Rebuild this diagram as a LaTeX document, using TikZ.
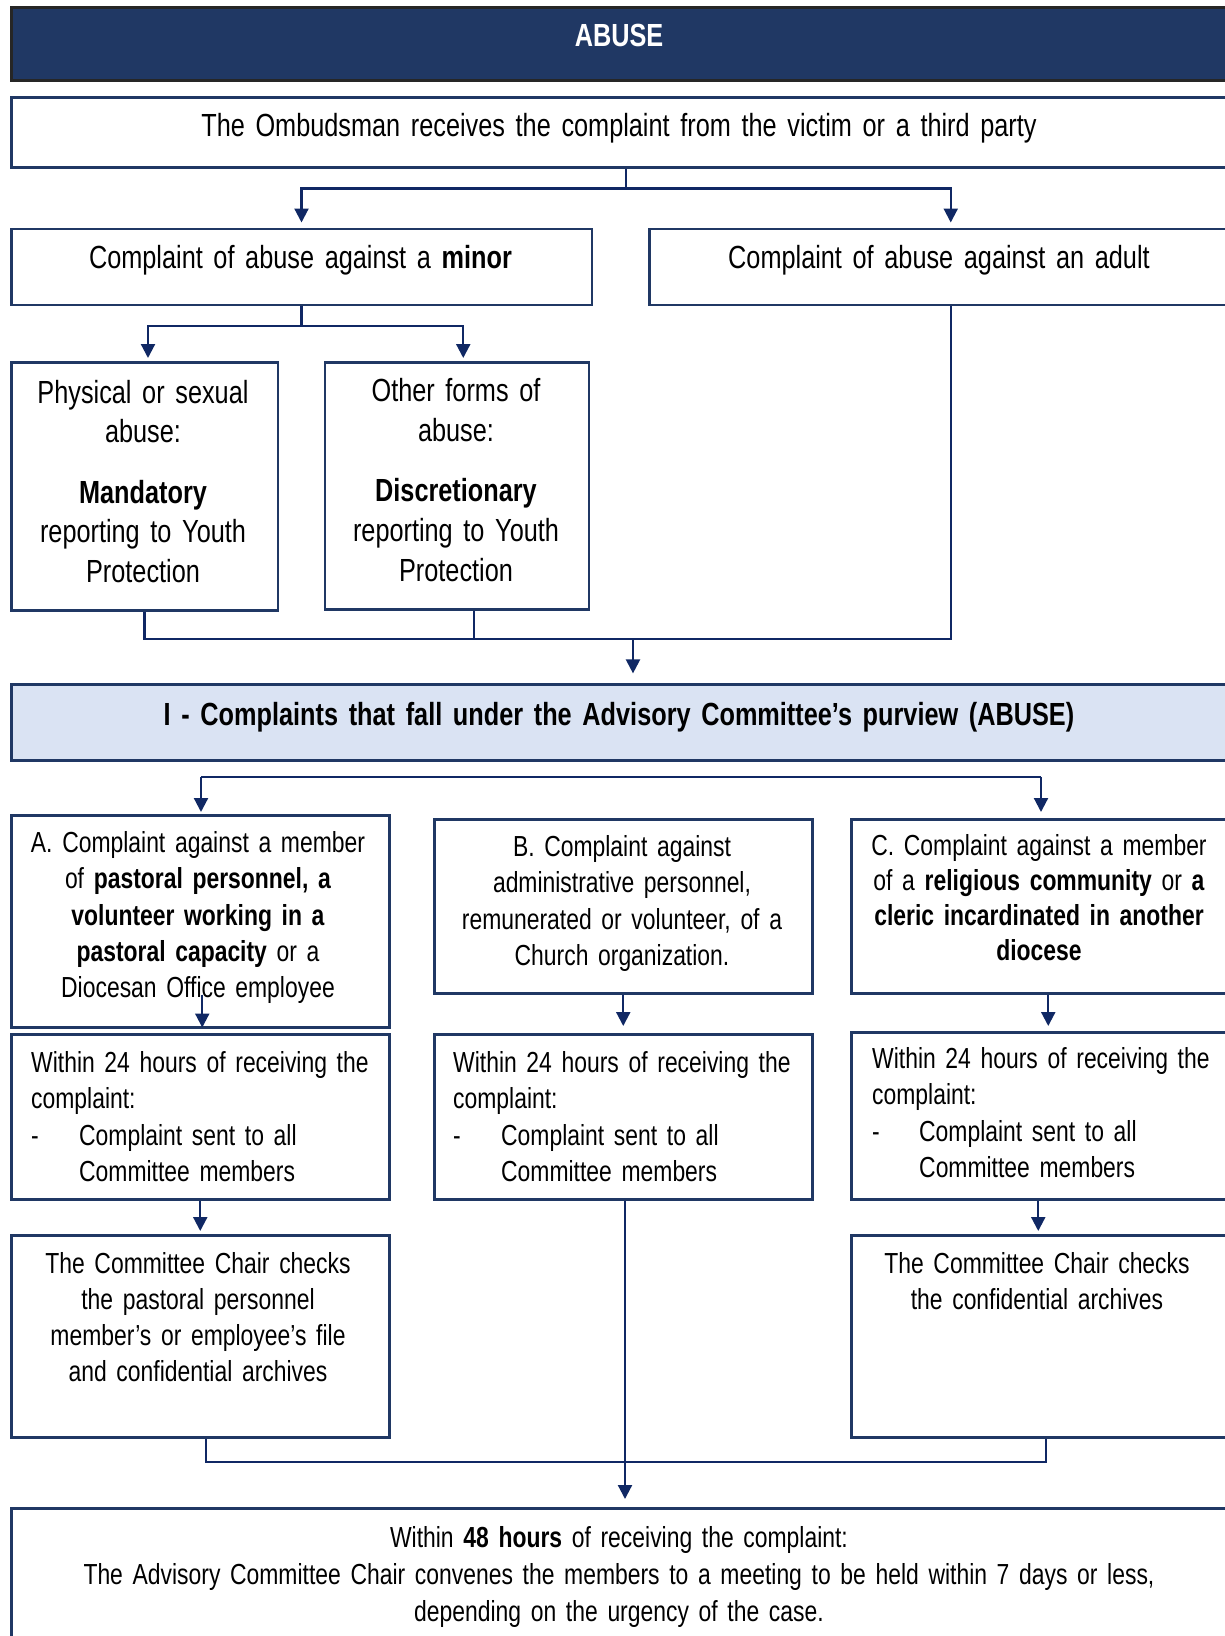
\documentclass[tikz,border=0pt]{standalone}
\usepackage{fontspec}
\setmainfont{Liberation Sans}[FakeStretch=0.79]
\usetikzlibrary{arrows.meta,calc}
\definecolor{navy}{RGB}{32,56,100}
\definecolor{conncol}{RGB}{16,40,100}
\definecolor{lightblue}{RGB}{218,227,243}
\newcommand{\fsbig}{\fontsize{32}{39.6}\selectfont}
\newcommand{\fssmall}{\fontsize{29}{36.2}\selectfont}
\newcommand{\fssmallC}{\fontsize{29}{34.8}\selectfont}
\newcommand{\fsfin}{\fontsize{29}{37}\selectfont}
\begin{document}
\begin{tikzpicture}[x=1pt,y=-1pt,
  box/.style={draw=navy, line width=2.5pt, rectangle, inner sep=0, anchor=north west},
  ctxt/.style={inner sep=0, anchor=north, align=center},
  ltxt/.style={inner sep=0, anchor=north west, align=left, text width=390pt, font=\fssmall},
  conn/.style={draw=conncol, line width=2.2pt},
  arr/.style={conn, -{Triangle[length=14pt,width=14pt]}},
]
\useasboundingbox (0,0) rectangle (1225,1636);
\clip (0,0) rectangle (1225,1636);

% ---------- boxes ----------
\node[box, draw=black!85, fill=navy, minimum width=1230pt, minimum height=73pt] (title) at (10,6) {};
\node[box, minimum width=1230pt, minimum height=70pt] (omb) at (10,96) {};
\node[box, minimum width=580.5pt, minimum height=76pt] (minor) at (10,227.5) {};
\node[box, minimum width=603pt, minimum height=76pt] (adult) at (648,227.5) {};
\node[box, minimum width=266.5pt, minimum height=248pt] (phys) at (10,361) {};
\node[box, minimum width=264pt, minimum height=247pt] (other) at (323.5,361) {};
\node[box, fill=lightblue, minimum width=1230pt, minimum height=76pt] (purv) at (10,683.4) {};
\node[box, minimum width=378pt, minimum height=212pt] (A) at (10,814) {};
\node[box, minimum width=378pt, minimum height=174pt] (B) at (433,818) {};
\node[box, minimum width=380pt, minimum height=174pt] (C) at (850,818) {};
\node[box, minimum width=378pt, minimum height=165pt] (A2) at (10,1033) {};
\node[box, minimum width=378pt, minimum height=165pt] (B2) at (433,1033) {};
\node[box, minimum width=380pt, minimum height=167pt] (C2) at (850,1031) {};
\node[box, minimum width=378pt, minimum height=202pt] (A3) at (10,1234) {};
\node[box, minimum width=380pt, minimum height=202pt] (C3) at (850,1234) {};
\node[box, minimum width=1230pt, minimum height=150pt] (fin) at (10,1507) {};

% ---------- texts ----------
\node[ctxt, text width=600pt, font=\fsbig\bfseries, text=white] (ttitle) at (619,18.2) {\strut ABUSE};
\node[ctxt, text width=1150pt, font=\fsbig] (tomb) at (619,108.8) {\strut The Ombudsman receives the complaint from the victim or a third party};
\node[ctxt, text width=560pt, font=\fsbig] (tminor) at (300.5,240.5) {\strut Complaint of abuse against a \textbf{minor}};
\node[ctxt, text width=580pt, font=\fsbig] (tadult) at (939,240.5) {\strut Complaint of abuse against an adult};
\node[ctxt, text width=300pt, font=\fsbig] (tphys) at (143,375.1) {\strut Physical or sexual\\ abuse:\\[20.8pt] \textbf{Mandatory}\\ reporting to Youth\\ Protection};
\node[ctxt, text width=300pt, font=\fsbig] (tother) at (456,374) {\strut Other forms of\\ abuse:\\[20.8pt] \textbf{Discretionary}\\ reporting to Youth\\ Protection};
\node[ctxt, text width=1150pt, font=\fsbig\bfseries] (tpurv) at (619,697.5) {\strut I - Complaints that fall under the Advisory Committee’s purview (ABUSE)};
\node[ctxt, text width=400pt, font=\fssmall] (tA) at (198,827.2) {\strut A. Complaint against a member\\ of \textbf{pastoral personnel, a}\\ \textbf{volunteer working in a}\\ \textbf{pastoral capacity} or a\\ Diocesan Office employee};
\node[ctxt, text width=400pt, font=\fssmall] (tB) at (622,831.2) {\strut B. Complaint against\\ administrative personnel,\\ remunerated or volunteer, of a\\ Church organization.};
\node[ctxt, text width=400pt, font=\fssmallC] (tC) at (1039,831.2) {\strut C. Complaint against a member\\ of a \textbf{religious community} or \textbf{a}\\ \textbf{cleric incardinated in another}\\ \textbf{diocese}};
\node[ltxt] (tA2) at (31,1047.2) {\strut Within 24 hours of receiving the\\ complaint:\\ \makebox[48pt][l]{-}Complaint sent to all\\ \hspace*{48pt}Committee members};
\node[ltxt] (tB2) at (453,1047.2) {\strut Within 24 hours of receiving the\\ complaint:\\ \makebox[48pt][l]{-}Complaint sent to all\\ \hspace*{48pt}Committee members};
\node[ltxt] (tC2) at (872,1043.2) {\strut Within 24 hours of receiving the\\ complaint:\\ \makebox[47pt][l]{-}Complaint sent to all\\ \hspace*{47pt}Committee members};
\node[ctxt, text width=400pt, font=\fssmall] (tA3) at (198,1247.7) {\strut The Committee Chair checks\\ the pastoral personnel\\ member’s or employee's file\\ and confidential archives};
\node[ctxt, text width=400pt, font=\fssmall] (tC3) at (1037,1247.7) {\strut The Committee Chair checks\\ the confidential archives};
\node[ctxt, text width=1150pt, font=\fsfin] (tfin) at (619,1521.2) {\strut Within \textbf{48 hours} of receiving the complaint:\\ The Advisory Committee Chair convenes the members to a meeting to be held within 7 days or less,\\ depending on the urgency of the case.};

% ---------- connectors ----------
% Ombudsman -> minor / adult
\draw[arr, shorten >=5pt] (omb.south) -- ++(0,20) -| (minor.north);
\draw[arr, shorten >=5pt] (omb.south) -- ++(0,20) -| (adult.north);
% minor -> physical / other
\coordinate (mphys) at ($(phys.north)+(3.5,0)$);
\coordinate (mother) at ($(other.north)+(6.5,0)$);
\draw[arr, shorten >=3pt] (minor.south) -- ++(0,20) -| (mphys);
\draw[arr, shorten >=3pt] (minor.south) -- ++(0,20) -| (mother);
% physical / other / adult -> purview
\coordinate (jn) at (633,638.6);
\coordinate (oth) at ($(other.south)+(17,0)$);
\draw[conn] (phys.south) |- (jn);
\draw[conn] (oth) |- (jn);
\draw[conn] (adult.south) |- (jn);
\draw[arr, shorten >=10pt] (jn) -- (jn |- purv.north);
% distribution line to A and C
\coordinate (hl) at (201,776.8);
\coordinate (hr) at (1041,776.8);
\draw[conn] (hl) -- (hr);
\draw[arr, shorten >=2pt] (hl) -- (hl |- A.north);
\draw[arr, shorten >=6pt] (hr) -- (hr |- C.north);
% A, B, C -> second row
\coordinate (ain) at ($(A.south)+(2,-34)$);
\draw[arr, shorten >=1pt] (ain) -- (ain |- A.south);
\draw[arr, shorten >=7pt] (B.south) -- (B.south |- B2.north);
\coordinate (cb) at ($(C.south)+(7,0)$);
\draw[arr, shorten >=5pt] (cb) -- (cb |- C2.north);
% second row -> third row
\draw[arr, shorten >=3pt] (A2.south) -- (A2.south |- A3.north);
\coordinate (c2b) at ($(C2.south)+(-3,0)$);
\draw[arr, shorten >=3pt] (c2b) -- (c2b |- C3.north);
% third row -> final
\coordinate (jb) at (625,1462);
\coordinate (a3b) at ($(A3.south)+(5.5,0)$);
\coordinate (c3b) at ($(C3.south)+(4.5,0)$);
\draw[conn] (a3b) |- (jb) -| (c3b);
\draw[arr, shorten >=8pt] (B2.south -| jb) -- (jb |- fin.north);
\end{tikzpicture}
\end{document}
